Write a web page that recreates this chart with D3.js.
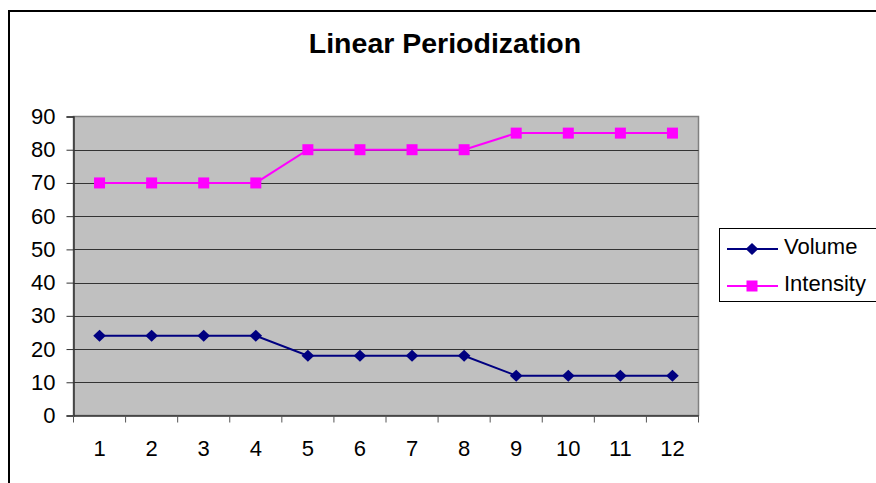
<!DOCTYPE html>
<html><head><meta charset="utf-8">
<script src="https://cdn.jsdelivr.net/npm/d3@7"></script>
<style>body{margin:0;background:#fff}svg{display:block}</style>
</head><body>
<svg id="c" width="876" height="483"></svg>
<script>
const categories = ["1","2","3","4","5","6","7","8","9","10","11","12"];
const volume = [24,24,24,24,18,18,18,18,12,12,12,12];
const intensity = [70,70,70,70,80,80,80,80,85,85,85,85];
const yTicks = [0,10,20,30,40,50,60,70,80,90];

const svg = d3.select("#c");
const font = "Liberation Sans, Arial, sans-serif";
const L = 73.5, R = 698.5, T = 116.5, B = 415.5;
const FS = 22;

// outer frame
svg.append("rect").attr("x",9).attr("y",11).attr("width",880).attr("height",490)
  .attr("fill","none").attr("stroke","#000").attr("stroke-width",2);

svg.append("text").attr("x",445).attr("y",53).attr("text-anchor","middle")
  .attr("font-family",font).attr("font-weight","bold").attr("font-size",28.5).text("Linear Periodization");

const x = d3.scaleBand().domain(categories).range([L,R]);
const y = d3.scaleLinear().domain([0,90]).range([B,T]);

svg.append("rect").attr("x",L).attr("y",T).attr("width",R-L).attr("height",B-T)
  .attr("fill","#C0C0C0").attr("stroke","#808080").attr("stroke-width",1.5);

// gridlines
svg.append("g").selectAll("line").data(yTicks.slice(1,-1)).join("line")
  .attr("x1",L).attr("x2",R).attr("y1",d=>Math.round(y(d))+0.5).attr("y2",d=>Math.round(y(d))+0.5)
  .attr("stroke","#333").attr("stroke-width",1);

// y axis
const ya = svg.append("g").attr("transform",`translate(${L},0)`)
  .call(d3.axisLeft(y).tickValues(yTicks).tickSize(7).tickPadding(11));
ya.select(".domain").attr("stroke","#333").attr("stroke-width",1.5);
ya.selectAll(".tick line").attr("stroke","#333");
ya.selectAll("text").attr("font-family",font).attr("font-size",FS).attr("fill","#000");

// x axis
const xa = svg.append("g").attr("transform",`translate(0,${B})`)
  .call(d3.axisBottom(x).tickSize(0).tickPadding(25));
xa.select(".domain").attr("stroke","#333").attr("stroke-width",1.5);
xa.selectAll("text").attr("font-family",font).attr("font-size",FS).attr("fill","#000");
const bounds = categories.map(c=>x(c)).concat([R]);
xa.selectAll("line.bt").data(bounds).join("line").attr("class","bt")
  .attr("x1",d=>d).attr("x2",d=>d).attr("y1",0).attr("y2",7).attr("stroke","#555").attr("stroke-width",1);

const cx = c => x(c)+x.bandwidth()/2;
const line = d3.line().x((d,i)=>cx(categories[i])).y(d=>y(d));

svg.append("path").datum(volume).attr("d",line).attr("fill","none").attr("stroke","#000080").attr("stroke-width",2);
svg.append("path").datum(intensity).attr("d",line).attr("fill","none").attr("stroke","#FF00FF").attr("stroke-width",2);

const dia = "M0,-6L6.3,0L0,6L-6.3,0Z";
svg.append("g").selectAll("path").data(volume).join("path")
  .attr("d",dia).attr("transform",(d,i)=>`translate(${cx(categories[i])},${y(d)})`).attr("fill","#000080");
svg.append("g").selectAll("rect").data(intensity).join("rect")
  .attr("x",(d,i)=>cx(categories[i])-5.5).attr("y",d=>y(d)-5.5).attr("width",11).attr("height",11).attr("fill","#FF00FF");

// legend
const lg = svg.append("g");
lg.append("rect").attr("x",719.5).attr("y",228.5).attr("width",170).attr("height",73)
  .attr("fill","#fff").attr("stroke","#000").attr("stroke-width",1);
const items = [{name:"Volume",color:"#000080",type:"d"},{name:"Intensity",color:"#FF00FF",type:"s"}];
items.forEach((it,i)=>{
  const yy = 249 + i*37;
  lg.append("line").attr("x1",727).attr("x2",778).attr("y1",yy).attr("y2",yy).attr("stroke",it.color).attr("stroke-width",2);
  if(it.type==="d") lg.append("path").attr("d",dia).attr("transform",`translate(752,${yy})`).attr("fill",it.color);
  else lg.append("rect").attr("x",746.5).attr("y",yy-5.5).attr("width",11).attr("height",11).attr("fill",it.color);
  lg.append("text").attr("x",784).attr("y",yy+5).attr("font-family",font).attr("font-size",FS).text(it.name);
});
</script>
</body></html>
